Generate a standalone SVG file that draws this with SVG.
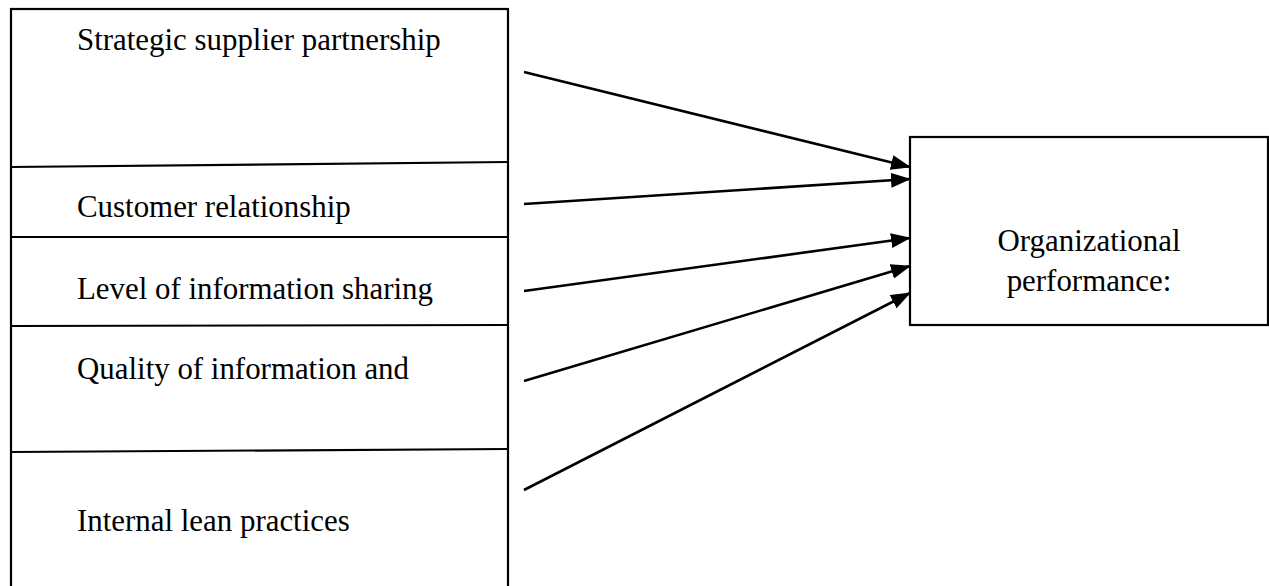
<svg xmlns="http://www.w3.org/2000/svg" width="1269" height="586" viewBox="0 0 1269 586">
<style>
.box{fill:#fff;stroke:#000;stroke-width:2.2}
.div{stroke:#000;stroke-width:2.2;fill:none}
.t{font-family:"Liberation Serif","Times New Roman",serif;font-size:30.9px;fill:#000}
.c{stroke:#000;stroke-width:2.6;fill:none;marker-end:url(#ah)}
</style>
<defs>
<marker id="ah" viewBox="0 0 20 15" refX="19" refY="7.5" markerWidth="20" markerHeight="15" markerUnits="userSpaceOnUse" orient="auto">
<path d="M0,0 L20,7.5 L0,15 z" fill="#000"/>
</marker>
</defs>
<g id="left-panel">
<rect class="box" x="11" y="9" width="497" height="590"/>
<line class="div" x1="11" y1="167" x2="508" y2="162"/>
<line class="div" x1="11" y1="237" x2="508" y2="237"/>
<line class="div" x1="11" y1="326" x2="508" y2="325"/>
<line class="div" x1="11" y1="452" x2="508" y2="449"/>
</g>
<g id="n1"><text class="t" x="77" y="50">Strategic supplier partnership</text></g>
<g id="n2"><text class="t" x="77" y="217">Customer relationship</text></g>
<g id="n3"><text class="t" x="77" y="299">Level of information sharing</text></g>
<g id="n4"><text class="t" x="77" y="379">Quality of information and</text></g>
<g id="n5"><text class="t" x="77" y="531">Internal lean practices</text></g>
<g id="n6">
<rect class="box" x="910" y="137" width="358" height="188"/>
<text class="t" x="1089" y="251" text-anchor="middle">Organizational</text>
<text class="t" x="1089" y="291" text-anchor="middle">performance:</text>
</g>
<g id="connectors">
<line class="c" x1="524" y1="72" x2="910" y2="167"/>
<line class="c" x1="524" y1="204" x2="910" y2="179"/>
<line class="c" x1="524" y1="291" x2="910" y2="238"/>
<line class="c" x1="524" y1="381" x2="910" y2="266"/>
<line class="c" x1="524" y1="490" x2="910" y2="293"/>
</g>
</svg>
